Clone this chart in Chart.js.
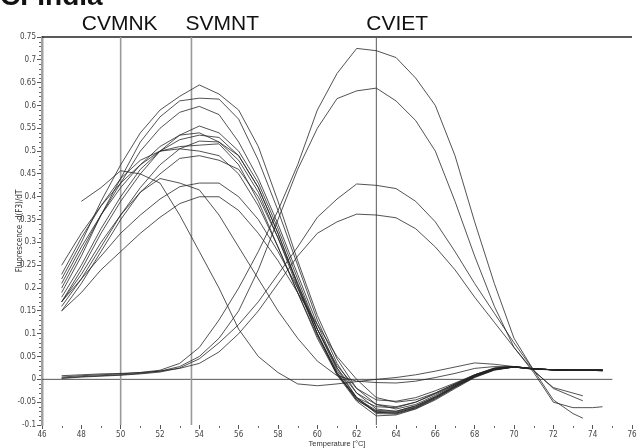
<!DOCTYPE html>
<html>
<head>
<meta charset="utf-8">
<script src="https://cdn.jsdelivr.net/npm/chart.js@4/dist/chart.umd.min.js"></script>
<style>
html,body{margin:0;padding:0;background:#fff;}
canvas{display:block;}
</style>
</head>
<body>
<canvas id="c" width="639" height="448"></canvas>
<script>
// Temperatures (°C) shared by all curves
const temps = [47,48,49,50,51,52,53,54,55,56,57,58,59,60,61,62,63,64,65,66,67,68,69,70,71,72,73,73.5,74,74.5];

// CVIET-type curves (peak near 63 °C)
const cviet1 = [0.005,0.008,0.01,0.012,0.015,0.02,0.035,0.07,0.13,0.2,0.28,0.37,0.47,0.59,0.67,0.725,0.72,0.705,0.66,0.6,0.49,0.345,0.21,0.09,0.02,-0.045,-0.075,-0.085,null,null];
const cviet2 = [0.003,0.006,0.008,0.01,0.013,0.018,0.028,0.05,0.09,0.15,0.24,0.35,0.46,0.55,0.615,0.632,0.638,0.61,0.567,0.5,0.39,0.27,0.16,0.07,0.015,-0.05,-0.062,-0.062,-0.062,-0.06];
const cviet3 = [0.002,0.005,0.007,0.009,0.012,0.016,0.025,0.045,0.08,0.12,0.17,0.23,0.29,0.355,0.395,0.428,0.425,0.418,0.39,0.345,0.28,0.21,0.145,0.08,0.02,-0.02,-0.038,-0.047,null,null];
const cviet4 = [0.008,0.01,0.012,0.013,0.015,0.018,0.024,0.035,0.06,0.1,0.15,0.21,0.27,0.32,0.345,0.362,0.36,0.354,0.33,0.29,0.24,0.18,0.125,0.07,0.018,-0.018,-0.03,-0.036,null,null];

// CVMNK-type curves (early peak)
const cvmnk1 = [null,0.39,0.42,0.457,0.45,0.43,0.36,0.28,0.2,0.11,0.05,0.015,-0.01,-0.014,-0.01,-0.005,0.0,0.004,0.01,0.018,0.027,0.036,0.033,0.028,0.023,0.021,0.02,0.02,0.02,0.018];
const cvmnk2 = [0.17,0.23,0.3,0.36,0.41,0.44,0.43,0.415,0.36,0.29,0.22,0.15,0.09,0.04,0.008,-0.004,-0.007,-0.008,-0.004,0.004,0.013,0.024,0.028,0.028,0.023,0.021,0.02,0.02,0.02,0.021];

// SVMNT-type curves (peak near 54 °C)
const svmnt1 = [0.22,0.3,0.39,0.47,0.54,0.59,0.62,0.645,0.625,0.59,0.51,0.39,0.26,0.14,0.045,-0.02,-0.055,-0.065,-0.055,-0.035,-0.012,0.01,0.025,0.028,0.023,0.021,0.02,0.02,0.02,0.02];
const svmnt2 = [0.19,0.27,0.36,0.44,0.52,0.575,0.61,0.616,0.614,0.57,0.48,0.37,0.25,0.13,0.035,-0.03,-0.065,-0.07,-0.058,-0.038,-0.014,0.008,0.024,0.027,0.022,0.021,0.02,0.02,0.02,0.02];
const svmnt3 = [0.2,0.28,0.36,0.43,0.5,0.55,0.585,0.598,0.58,0.52,0.44,0.34,0.23,0.12,0.025,-0.04,-0.072,-0.074,-0.062,-0.04,-0.016,0.006,0.022,0.028,0.023,0.021,0.02,0.02,0.02,0.02];
const svmnt4 = [0.17,0.24,0.32,0.39,0.45,0.5,0.535,0.555,0.54,0.5,0.43,0.33,0.22,0.11,0.02,-0.04,-0.075,-0.076,-0.064,-0.043,-0.018,0.005,0.021,0.027,0.023,0.021,0.02,0.02,0.02,0.019];
const svmnt5 = [0.21,0.29,0.36,0.42,0.47,0.51,0.535,0.54,0.52,0.48,0.41,0.31,0.2,0.1,0.015,-0.042,-0.068,-0.07,-0.058,-0.038,-0.014,0.007,0.022,0.027,0.022,0.021,0.02,0.02,0.02,0.021];
const svmnt6 = [0.16,0.22,0.29,0.36,0.42,0.47,0.505,0.522,0.52,0.49,0.42,0.32,0.21,0.1,0.01,-0.048,-0.08,-0.078,-0.065,-0.045,-0.02,0.004,0.02,0.027,0.023,0.021,0.02,0.02,0.02,0.02];
const svmnt7 = [0.25,0.32,0.38,0.43,0.47,0.5,0.51,0.513,0.516,0.47,0.39,0.29,0.19,0.09,0.01,-0.04,-0.06,-0.062,-0.05,-0.03,-0.01,0.01,0.024,0.028,0.023,0.021,0.02,0.02,0.02,0.02];
const svmnt8 = [0.15,0.21,0.28,0.35,0.41,0.45,0.484,0.49,0.48,0.46,0.4,0.31,0.21,0.11,0.025,-0.03,-0.055,-0.06,-0.05,-0.032,-0.012,0.008,0.023,0.027,0.023,0.021,0.02,0.02,0.02,0.02];
const svmnt9 = [0.17,0.22,0.27,0.32,0.36,0.395,0.422,0.43,0.43,0.4,0.35,0.28,0.2,0.11,0.03,-0.02,-0.045,-0.048,-0.04,-0.025,-0.008,0.01,0.024,0.028,0.023,0.021,0.02,0.02,0.02,0.02];
const svmnt10 = [0.15,0.19,0.24,0.28,0.32,0.355,0.385,0.4,0.4,0.37,0.32,0.26,0.19,0.12,0.05,0.0,-0.04,-0.05,-0.045,-0.03,-0.01,0.008,0.023,0.027,0.023,0.021,0.02,0.02,0.02,0.02];
const svmnt11 = [0.18,0.25,0.33,0.4,0.46,0.5,0.525,0.535,0.53,0.49,0.42,0.32,0.205,0.1,0.015,-0.045,-0.072,-0.074,-0.062,-0.042,-0.017,0.006,0.021,0.027,0.023,0.021,0.02,0.02,0.02,0.02];
const svmnt12 = [0.23,0.31,0.38,0.44,0.48,0.5,0.505,0.5,0.49,0.45,0.38,0.29,0.19,0.095,0.012,-0.045,-0.07,-0.072,-0.06,-0.04,-0.016,0.006,0.022,0.027,0.023,0.021,0.02,0.02,0.02,0.02];

// Marker (Tm) lines and their labels
const markerTemps = [50, 53.6, 63];
const markerLabels = ['CVMNK', 'SVMNT', 'CVIET'];

// Axis ranges
const xRange = [46, 76];
const yRange = [-0.1, 0.75];

const curves = [cviet1,cviet2,cviet3,cviet4,cvmnk1,cvmnk2,svmnt1,svmnt2,svmnt3,svmnt4,svmnt5,svmnt6,svmnt7,svmnt8,svmnt9,svmnt10,svmnt11,svmnt12];

const datasets = [];
// zero baseline
datasets.push({data:[{x:xRange[0],y:0},{x:75,y:0}], borderColor:'#555', borderWidth:1, pointRadius:0, order:5});
// top frame line
datasets.push({data:[{x:xRange[0],y:yRange[1]},{x:xRange[1],y:yRange[1]}], borderColor:'#222', borderWidth:1.5, pointRadius:0, clip:false, order:5});
// marker lines
markerTemps.forEach((m,i)=>{
  datasets.push({data:[{x:m,y:yRange[0]},{x:m,y:yRange[1]}], borderColor: i<2 ? '#9a9a9a' : '#5a5a5a', borderWidth: i<2 ? 1.6 : 1, pointRadius:0, order:4});
});
curves.forEach(vals=>{
  datasets.push({
    data: temps.map((t,i)=>({x:t, y:vals[i]})),
    borderColor:'rgba(35,35,35,0.78)', borderWidth:1, pointRadius:0, tension:0, spanGaps:false, order:1
  });
});

const FONT = "'Liberation Sans', Arial, sans-serif";
const NARROW = "'Liberation Sans Narrow', 'DejaVu Sans Condensed', 'Liberation Sans', sans-serif";

const extras = {
  id:'extras',
  afterDraw(chart){
    const ctx = chart.ctx;
    const xs = chart.scales.x, ys = chart.scales.y;
    ctx.save();
    // minor ticks y
    ctx.strokeStyle = '#666'; ctx.lineWidth = 1;
    for (let k = -10; k <= 75; k++) {
      if (k % 5 === 0) continue;
      const py = Math.round(ys.getPixelForValue(k/100)) + 0.5;
      ctx.beginPath(); ctx.moveTo(xs.left - 3, py); ctx.lineTo(xs.left - 1, py); ctx.stroke();
    }
    // minor ticks x
    for (let t = xRange[0]+1; t < xRange[1]; t += 2) {
      const px = Math.round(xs.getPixelForValue(t)) + 0.5;
      ctx.beginPath(); ctx.moveTo(px, ys.bottom + 1); ctx.lineTo(px, ys.bottom + 3); ctx.stroke();
    }
    // marker labels
    ctx.fillStyle = '#111';
    ctx.font = '21px ' + FONT;
    ctx.textBaseline = 'alphabetic';
    markerTemps.forEach((m,i)=>{
      const px = xs.getPixelForValue(m);
      if (i === 0) { ctx.textAlign = 'center'; ctx.fillText(markerLabels[i], px - 1, 30); }
      else if (i === 1) { ctx.textAlign = 'left'; ctx.fillText(markerLabels[i], px - 6, 30); }
      else { ctx.textAlign = 'left'; ctx.fillText(markerLabels[i], px - 10, 30); }
    });
    // cut-off panel title at top-left
    ctx.font = 'bold 28px ' + FONT;
    ctx.textAlign = 'left';
    ctx.fillText('CFIndia', 0, 5);
    ctx.restore();
  }
};

new Chart(document.getElementById('c'), {
  type:'line',
  data:{datasets},
  options:{
    responsive:false,
    animation:false,
    devicePixelRatio:1,
    layout:{padding:{left:0, right:7, top:37, bottom:0}},
    plugins:{legend:{display:false}, tooltip:{enabled:false}},
    scales:{
      x:{
        type:'linear', min:xRange[0], max:xRange[1],
        afterFit(s){ s.height = 23; },
        ticks:{stepSize:2, color:'#444', font:{family:NARROW, size:8}, padding:1, maxRotation:0, autoSkip:false},
        grid:{display:true, drawOnChartArea:false, drawTicks:true, tickLength:4, color:'#555'},
        border:{display:false},
        title:{display:true, text:'Temperature [°C]', color:'#333', font:{family:FONT, size:7.5}, padding:{top:0,bottom:0}}
      },
      y:{
        type:'linear', min:yRange[0], max:yRange[1],
        afterFit(s){ s.width = 42; },
        ticks:{stepSize:0.05, color:'#444', font:{family:NARROW, size:8}, padding:1,
          callback:(v)=>{ const r = Math.round(v*100)/100; return (r === 0 ? 0 : r).toString(); }},
        grid:{display:true, drawOnChartArea:false, drawTicks:true, tickLength:5, color:'#555'},
        border:{display:true, color:'#a0a0a0', width:2.5},
        title:{display:true, text:'Fluorescence -d(F3)/dT', color:'#333', font:{family:NARROW, size:8}, padding:{top:15,bottom:0}}
      }
    }
  },
  plugins:[extras]
});
</script>
</body>
</html>
